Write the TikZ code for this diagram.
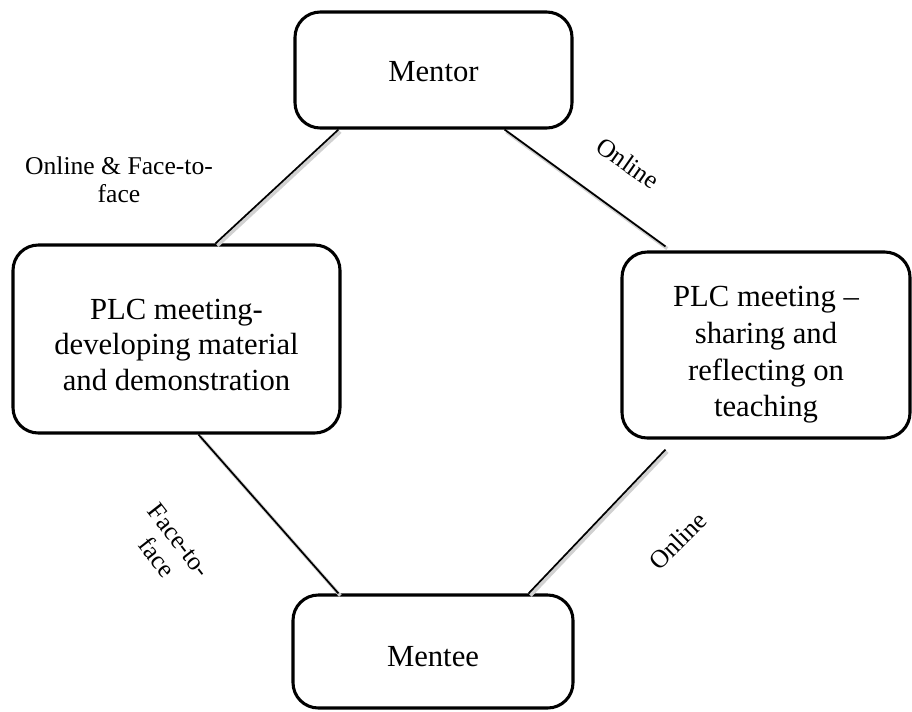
\documentclass[tikz,border=0pt]{standalone}
\usepackage{fontspec}
\setmainfont{Liberation Serif}
\begin{document}
\begin{tikzpicture}[x=0.75pt,y=-0.75pt,
  box/.style={draw=black, line width=2.3pt, rounded corners=19pt, align=center,
    font=\fontsize{23}{26.5}\selectfont, inner sep=0pt},
  link/.style={draw=black, line width=1.3pt},
  linkshade/.style={draw=black!18, line width=2.6pt, transform canvas={xshift=1.4pt,yshift=-1.6pt}},
  tag/.style={align=center, font=\fontsize{19.2}{21}\selectfont, inner sep=0pt}]
\useasboundingbox (0,0) rectangle (912,711);

% the four stations of the cycle
\node[box, minimum width=207.75pt, minimum height=87pt] (mentor) at (433.5,70)
  {\rule{0pt}{18pt}Mentor};
\node[box, minimum width=245.25pt, minimum height=141pt] (plcdev) at (176.5,339)
  {\rule{0pt}{24pt}PLC meeting-\\developing material\\and demonstration};
\node[box, minimum width=216pt, minimum height=139.5pt, font=\fontsize{23}{27.5}\selectfont]
  (plcshare) at (766,345)
  {\rule{0pt}{30pt}PLC meeting --\\sharing and\\reflecting on\\teaching};
\node[box, minimum width=210pt, minimum height=84.75pt] (mentee) at (433,651.5)
  {\rule{0pt}{23pt}Mentee};

% end points of the connectors on the box edges
\coordinate (a1) at ([xshift=33.75pt]mentor.south west);
\coordinate (a2) at ([xshift=153pt]plcdev.north west);
\coordinate (b1) at ([xshift=-51.75pt]mentor.south east);
\coordinate (b2) at ([xshift=33.75pt,yshift=3pt]plcshare.north west);
\coordinate (c1) at ([xshift=140.25pt]plcdev.south west);
\coordinate (c2) at ([xshift=35.25pt]mentee.north west);
\coordinate (d1) at ([xshift=33.75pt,yshift=-7.5pt]plcshare.south west);
\coordinate (d2) at ([xshift=-34.5pt]mentee.north east);

% soft shading under the connectors
\draw[linkshade] (a1) -- (a2);
\draw[linkshade] (b1) -- (b2);
\draw[linkshade] (c1) -- (c2);
\draw[linkshade] (d1) -- (d2);

% connectors
\draw[link] (a1) -- (a2);
\draw[link] (b1) -- (b2);
\draw[link] (c1) -- (c2);
\draw[link] (d1) -- (d2);

% connector labels
\node[tag] (lab1) at (119,180) {Online \& Face-to-\\face};
\node[tag, rotate=-35] (lab2) at (628,163) {Online};
\node[tag, rotate=-52] (lab3) at (168,549) {Face-to-\\face};
\node[tag, rotate=45] (lab4) at (678,541) {Online};
\end{tikzpicture}
\end{document}
